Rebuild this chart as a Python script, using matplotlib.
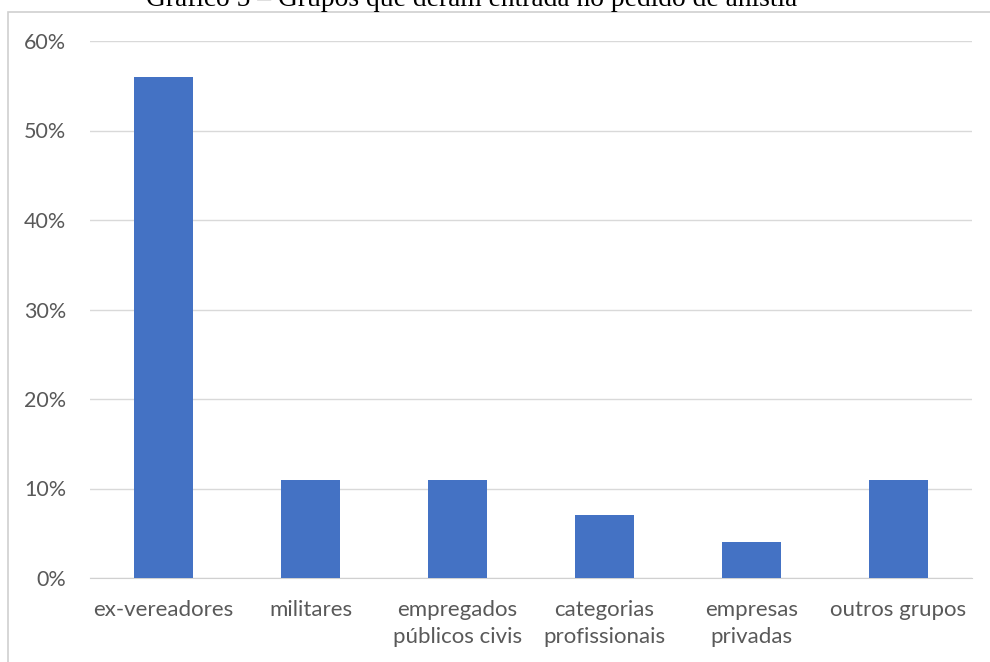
import matplotlib.pyplot as plt
from matplotlib.patches import Rectangle
from matplotlib.ticker import PercentFormatter

categories = ["ex-vereadores", "militares", "empregados\npúblicos civis",
              "categorias\nprofissionais", "empresas\nprivadas", "outros grupos"]
values = [56, 11, 11, 7, 4, 11]
yticks = [0, 10, 20, 30, 40, 50, 60]

fig = plt.figure(figsize=(9.9, 6.62), dpi=100)
ax = fig.add_axes([90 / 990, 1 - 578 / 662, (972 - 90) / 990, (578 - 41) / 662])

# chart frame (extends beyond the image on the right and bottom)
fig.patches.append(Rectangle((7.5 / 990, -0.1), 1.2, 1 - 12 / 662 + 0.1,
                             transform=fig.transFigure, fill=False,
                             edgecolor="#d0d0d0", linewidth=1.2))

x = range(len(categories))
ax.bar(x, values, width=0.4, color="#4472c4", zorder=3)

ax.set_xlim(-0.5, len(categories) - 0.5)
ax.set_ylim(0, 60)
ax.set_yticks(yticks)
ax.yaxis.set_major_formatter(PercentFormatter(decimals=0))
ax.set_xticks(list(x))
ax.set_xticklabels(categories)
ax.grid(axis="y", color="#d9d9d9", linewidth=1, zorder=0)
for s in ["top", "right", "left"]:
    ax.spines[s].set_visible(False)
ax.spines["bottom"].set_color("#d0d0d0")
ax.tick_params(axis="both", length=0, labelcolor="#595959")
ax.tick_params(axis="y", pad=17, labelsize=15.5)
ax.tick_params(axis="x", pad=16, labelsize=16)
for lbl in ax.get_xticklabels() + ax.get_yticklabels():
    lbl.set_family("Lato")
for lbl in ax.get_xticklabels():
    lbl.set_linespacing(1.4)

# title is clipped by the top edge in the original
fig.text(472 / 990, 1 - 6 / 662, "Gráfico 5 – Grupos que deram entrada no pedido de anistia",
         ha="center", va="baseline", fontsize=19.8, family="Liberation Serif")

fig.savefig("out.png", dpi=100)
